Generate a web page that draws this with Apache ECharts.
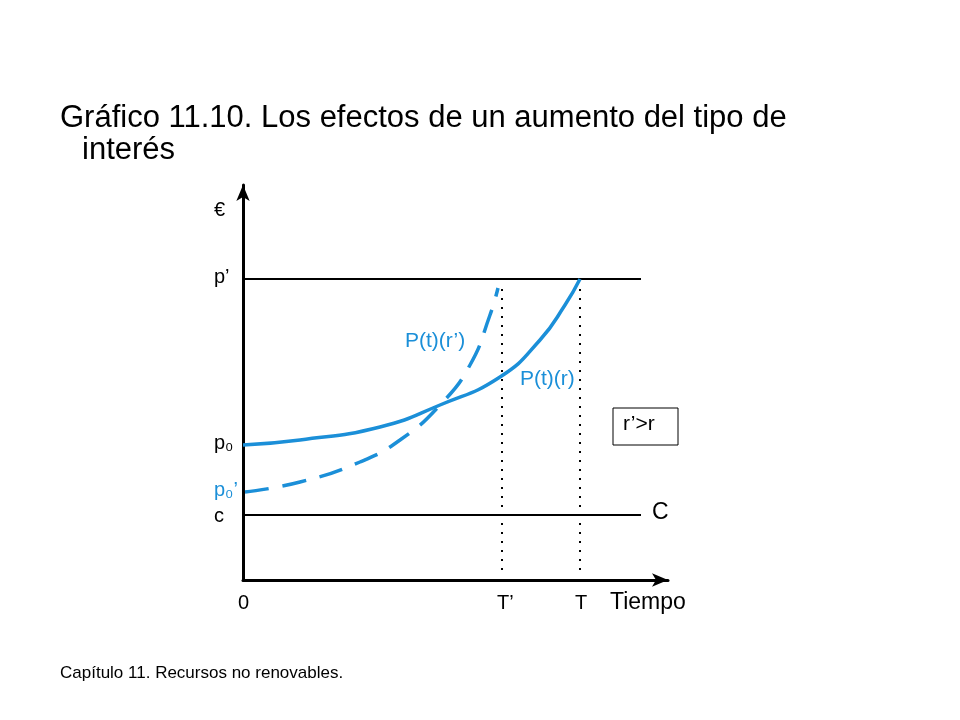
<!DOCTYPE html><html><head><meta charset="utf-8">
<script src="https://cdn.jsdelivr.net/npm/echarts@6/dist/echarts.min.js"></script>
<style>html,body{margin:0;background:#fff}#c{width:960px;height:720px}</style></head><body><div id="c"></div>
<script>
const solidCurve=[[0,13.5],[5.7,14.0],[13.7,15.3],[19.7,17.5],[25.7,20.3],[29.7,24],[32.2,27.5],[33.7,30.1]];
const dashedCurve=[[0.2,8.8],[5.7,9.8],[11.7,11.8],[15.7,14],[19.7,17.5],[22.7,21.5],[24.7,26.5],[25.5,29.2]];
const pPrime=30.1, cLevel=6.5, tPrime=25.9, tT=33.7, lineEnd=39.8;
const xTickLabels=[[0,'0'],[tPrime,'T’'],[tT,'T']];
const yTickLabels=[[36.8,'€'],[pPrime,'p’'],[13.5,'p₀'],[8.8,'p₀’'],[6.2,'c']];
const blue='#1b8fd8';
const chart=echarts.init(document.getElementById('c'));
const L=243,T=185,W=425,H=395;
const px=x=>L+x*10, py=y=>T+H-y*10;
const g=[
 {type:'text',left:60,top:103,style:{text:'Gráfico 11.10. Los efectos de un aumento del tipo de',font:'31px Arial',fill:'#000'}},
 {type:'text',left:82,top:135,style:{text:'interés',font:'31px Arial',fill:'#000'}},
 {type:'text',left:60,top:665,style:{text:'Capítulo 11. Recursos no renovables.',font:'17px Arial',fill:'#000'}},
 {type:'text',left:610,top:591,style:{text:'Tiempo',font:'23px Arial',fill:'#000'}},
 {type:'text',left:652,top:501,style:{text:'C',font:'23px Arial',fill:'#000'}},
 {type:'text',left:405,top:331,style:{text:'P(t)(r’)',font:'21px Arial',fill:blue}},
 {type:'text',left:520,top:369,style:{text:'P(t)(r)',font:'21px Arial',fill:blue}},
 {type:'rect',shape:{x:613,y:408,width:65,height:37},style:{fill:'#fff',stroke:'#000',lineWidth:1}},
 {type:'text',left:623,top:414,style:{text:'r’>r',font:'21px Arial',fill:'#000'}}
];
xTickLabels.forEach(([v,s])=>g.push({type:'text',left:px(v)-5,top:593,style:{text:s,font:'20px Arial',fill:'#000'}}));
yTickLabels.forEach(([v,s],i)=>g.push({type:'text',left:214,top:py(v)-12,style:{text:s,font:'20px Arial',fill:i==3?blue:'#000'}}));
chart.setOption({animation:false,
 grid:{left:L,top:T,width:W,height:H},
 xAxis:{type:'value',min:0,max:42.5,splitLine:{show:false},axisTick:{show:false},axisLabel:{show:false},
  axisLine:{lineStyle:{color:'#000',width:3},symbol:['none','arrow'],symbolSize:[10,16]}},
 yAxis:{type:'value',min:0,max:39.5,splitLine:{show:false},axisTick:{show:false},axisLabel:{show:false},
  axisLine:{lineStyle:{color:'#000',width:3},symbol:['none','arrow'],symbolSize:[10,16]}},
 series:[
  {type:'line',data:[[0,pPrime],[lineEnd,pPrime]],symbol:'none',lineStyle:{color:'#000',width:2}},
  {type:'line',data:[[0,cLevel],[lineEnd,cLevel]],symbol:'none',lineStyle:{color:'#000',width:2}},
  {type:'line',data:[[tPrime,1],[tPrime,29.6]],symbol:'none',lineStyle:{color:'#000',width:2,type:[2,7]}},
  {type:'line',data:[[tT,1],[tT,29.6]],symbol:'none',lineStyle:{color:'#000',width:2,type:[2,7]}},
  {type:'line',data:solidCurve,smooth:0.5,symbol:'none',lineStyle:{color:blue,width:3.5}},
  {type:'line',data:dashedCurve,smooth:0.5,symbol:'none',lineStyle:{color:blue,width:3.5,type:[24,14]}}
 ],
 graphic:g});
</script></body></html>
